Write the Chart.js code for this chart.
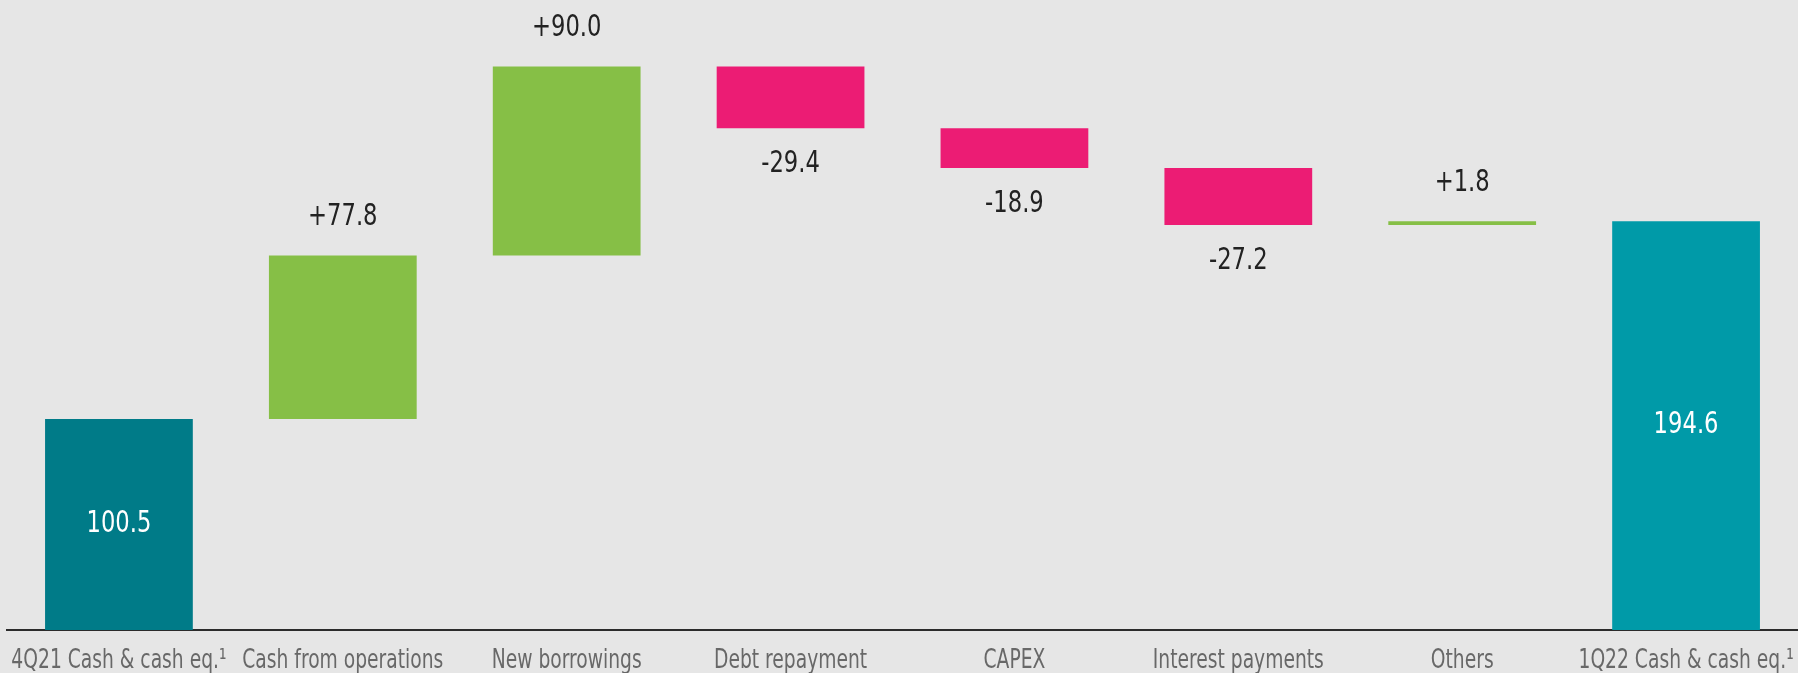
<!DOCTYPE html>
<html>
<head>
<meta charset="utf-8">
<script src="https://cdn.jsdelivr.net/npm/chart.js@4/dist/chart.umd.min.js"></script>
<style>
    html, body { margin: 0; padding: 0; background: #e6e6e6; }
    #wrap { width: 1798px; height: 673px; }
</style>
</head>
<body>
<div id="wrap"><canvas id="cashChart" width="1798" height="673"></canvas></div>
<script>
// Cash bridge 4Q21 -> 1Q22
const categories = ["4Q21 Cash & cash eq.¹", "Cash from operations", "New borrowings", "Debt repayment",
    "CAPEX", "Interest payments", "Others", "1Q22 Cash & cash eq.¹"];
const openingCash = 100.5;
const changes = [77.8, 90.0, -29.4, -18.9, -27.2, 1.8];
const closingCash = 194.6;
const yMin = 0;
const yMax = 300;

const FONT = "'DejaVu Sans Condensed', 'DejaVu Sans', sans-serif";

// build floating bars from the running total
const ranges = [[0, openingCash]];
const colors = ["#007b88"];
const labels = [openingCash.toFixed(1)];
let running = openingCash;
changes.forEach(c => {
    const next = Math.round((running + c) * 10) / 10;
    ranges.push([running, next]);
    colors.push(c >= 0 ? "#86bf46" : "#ec1c74");
    labels.push((c >= 0 ? "+" : "-") + Math.abs(c).toFixed(1));
    running = next;
});
ranges.push([0, closingCash]);
colors.push("#009aa8");
labels.push(closingCash.toFixed(1));

// draw text squeezed horizontally, the original uses a condensed face
function narrowText(ctx, text, x, y, squeeze) {
    ctx.save();
    ctx.translate(x, y);
    ctx.scale(squeeze, 1);
    ctx.fillText(text, 0, 0);
    ctx.restore();
}

const textLayer = {
    id: "textLayer",
    afterDatasetsDraw(chart) {
        const ctx = chart.ctx;
        const meta = chart.getDatasetMeta(0);
        const xScale = chart.scales.x;
        ctx.save();
        ctx.textAlign = "center";
        ctx.textBaseline = "middle";

        // value labels
        ctx.font = "30px " + FONT;
        meta.data.forEach((bar, i) => {
            const top = Math.min(bar.y, bar.base);
            const bottom = Math.max(bar.y, bar.base);
            if (i === 0 || i === meta.data.length - 1) {
                ctx.fillStyle = "#ffffff";
                narrowText(ctx, labels[i], bar.x, (top + bottom) / 2, 0.84);
            } else {
                ctx.fillStyle = "#222222";
                const y = changes[i - 1] >= 0 ? top - 38 : bottom + 36;
                narrowText(ctx, labels[i], bar.x, y, 0.84);
            }
        });

        // category labels under the axis
        ctx.font = "26px " + FONT;
        ctx.fillStyle = "#686868";
        categories.forEach((cat, i) => {
            narrowText(ctx, cat, xScale.getPixelForTick(i), xScale.top + 31, 0.8);
        });
        ctx.restore();
    }
};

new Chart(document.getElementById("cashChart"), {
    type: "bar",
    data: {
        labels: categories,
        datasets: [{
            data: ranges,
            backgroundColor: colors,
            borderWidth: 0,
            borderSkipped: false,
            categoryPercentage: 1,
            barPercentage: 0.66
        }]
    },
    options: {
        responsive: false,
        animation: false,
        devicePixelRatio: 1,
        layout: { padding: { left: 7, right: 0, top: 0, bottom: 0 } },
        plugins: {
            legend: { display: false },
            tooltip: { enabled: false }
        },
        scales: {
            x: {
                grid: { display: false, drawTicks: false },
                border: { display: true, color: "#2b2b2b", width: 2 },
                ticks: { display: false },
                afterFit: scale => {
                    scale.height = 43;
                    scale.paddingLeft = 0;
                    scale.paddingRight = 0;
                }
            },
            y: {
                display: false,
                min: yMin,
                max: yMax
            }
        }
    },
    plugins: [textLayer]
});
</script>
</body>
</html>
